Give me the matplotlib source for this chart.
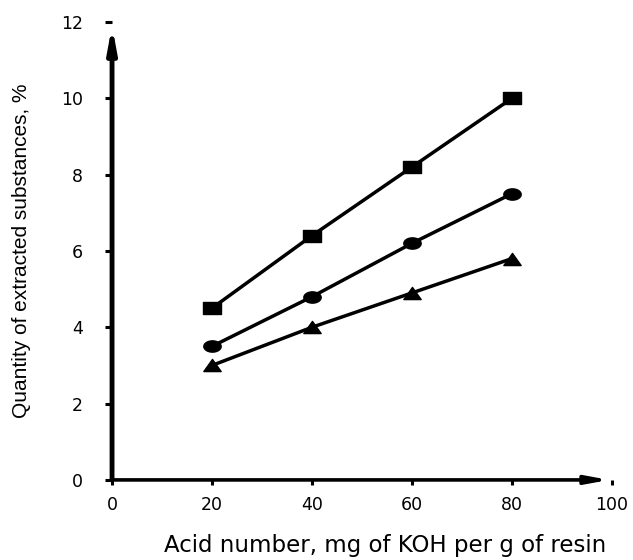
import matplotlib.pyplot as plt
from matplotlib.path import Path
import numpy as np

acid = [20, 40, 60, 80]
squares = [4.5, 6.4, 8.2, 10.0]
circles = [3.5, 4.8, 6.2, 7.5]
triangles = [3.0, 4.0, 4.9, 5.8]

plt.rcParams['font.family'] = ['Liberation Sans', 'DejaVu Sans']

# slightly wide marker shapes, like in the original picture
t = np.linspace(0, 2 * np.pi, 40)
ell = Path(np.column_stack([np.cos(t), 0.65 * np.sin(t)]), closed=True)
sq = Path([(-1, -0.7), (1, -0.7), (1, 0.7), (-1, 0.7), (-1, -0.7)], closed=True)
tri = Path([(0, 0.7), (-1, -0.7), (1, -0.7), (0, 0.7)], closed=True)

fig = plt.figure(figsize=(6.33, 5.6), dpi=100)
ax = fig.add_axes([0.177, 0.143, 0.79, 0.818])

ax.plot(acid, squares, color='black', lw=2.5, marker=sq, ms=12.5, clip_on=False)
ax.plot(acid, circles, color='black', lw=2.5, marker=ell, ms=12.5, clip_on=False)
ax.plot(acid, triangles, color='black', lw=2.5, marker=tri, ms=12.5, clip_on=False)

ax.set_xlim(0, 100)
ax.set_ylim(0, 12)
ax.set_xticks([0, 20, 40, 60, 80, 100])
ax.set_yticks([0, 2, 4, 6, 8, 10, 12])

for s in ['top', 'right', 'left', 'bottom']:
    ax.spines[s].set_visible(False)

# axes drawn as arrows
ax.annotate('', xy=(0, 11.9), xytext=(0, 0),
            arrowprops=dict(arrowstyle='-|>,head_length=0.7,head_width=0.13',
                            color='black', lw=3.5, mutation_scale=20,
                            shrinkA=0, shrinkB=0),
            annotation_clip=False)
ax.annotate('', xy=(99.4, 0), xytext=(0, 0),
            arrowprops=dict(arrowstyle='-|>,head_length=0.65,head_width=0.12',
                            color='black', lw=2.6, mutation_scale=20,
                            shrinkA=0, shrinkB=0),
            annotation_clip=False)

ax.tick_params(axis='y', direction='out', length=5, width=2.2, pad=16)
ax.tick_params(axis='x', direction='out', length=3.5, width=2.2, pad=8)
for lab in ax.get_xticklabels() + ax.get_yticklabels():
    lab.set_family('DejaVu Sans')
    lab.set_fontsize(12.5)

ax.set_xlabel('Acid number, mg of KOH per g of resin', fontsize=16.5, family='DejaVu Sans')
ax.xaxis.set_label_coords(0.546, -0.118)
ax.set_ylabel('Quantity of extracted substances, %', fontsize=15)
ax.yaxis.set_label_coords(-0.162, 0.5)

fig.savefig('out.png', dpi=100)
